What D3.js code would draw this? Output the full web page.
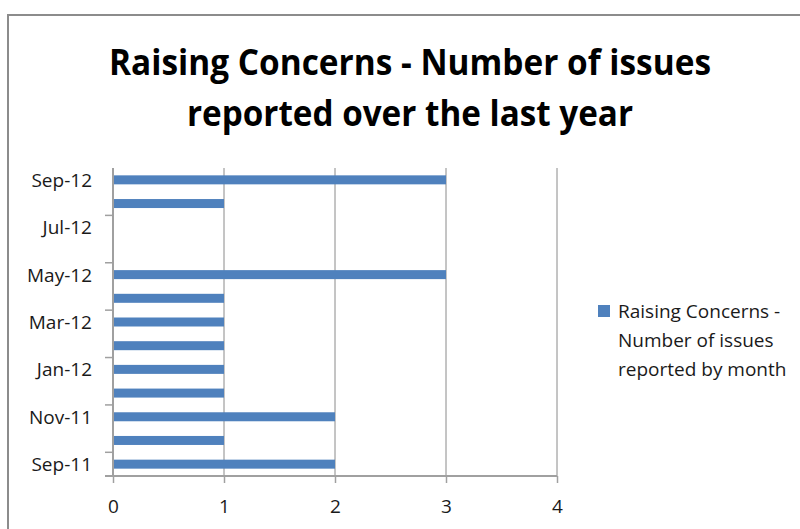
<!DOCTYPE html>
<html>
  <head>
    <meta charset="utf-8">
    <title>Raising Concerns</title>
    <style>
      body { margin: 0; background: #fff; }
      text { font-family: "Open Sans", "Noto Sans", sans-serif; fill: #1a1a1a; }
    </style>
  </head>
  <body>
    <div id="container"></div>
  </body>

  <script src="https://cdn.jsdelivr.net/npm/d3@7"></script>

  <script>
  var months = ["Sep-11", "Oct-11", "Nov-11", "Dec-11", "Jan-12", "Feb-12", "Mar-12",
                "Apr-12", "May-12", "Jun-12", "Jul-12", "Aug-12", "Sep-12"];
  var issues = [2, 1, 2, 1, 1, 1, 1, 1, 3, 0, 0, 1, 3];
  var xTicks = [0, 1, 2, 3, 4];
  var titleLines = ["Raising Concerns - Number of issues", "reported over the last year"];
  var legendLines = ["Raising Concerns -", "Number of issues", "reported by month"];

  function main() {
    var width = 800, height = 529;
    var svg = d3.select("#container").append("svg")
      .attr("width", width)
      .attr("height", height);

    // outer chart frame (runs off the right and bottom edge)
    svg.append("rect")
      .attr("x", 8).attr("y", 15)
      .attr("width", 820).attr("height", 540)
      .attr("fill", "#fff")
      .attr("stroke", "#8c8c8c")
      .attr("stroke-width", 2);

    var left = 113, right = 557, top = 168, bottom = 476;
    var blue = "#4f81bd";

    var x = d3.scaleLinear().domain([0, 4]).range([left, right]);
    var y = d3.scaleBand().domain(months).range([bottom, top]);

    // title
    svg.selectAll(".title").data(titleLines).enter().append("text")
      .attr("class", "title")
      .attr("x", 410)
      .attr("y", function(d, i) { return 75 + i * 51; })
      .attr("text-anchor", "middle")
      .attr("font-size", 35)
      .attr("font-weight", "bold")
      .attr("textLength", function(d, i) { return i === 0 ? 602 : 446; })
      .attr("lengthAdjust", "spacingAndGlyphs")
      .style("fill", "#000")
      .text(function(d) { return d; });

    // vertical gridlines
    svg.selectAll(".grid").data(xTicks.slice(1)).enter().append("line")
      .attr("class", "grid")
      .attr("x1", function(d) { return x(d); })
      .attr("x2", function(d) { return x(d); })
      .attr("y1", top).attr("y2", bottom)
      .attr("stroke", "#8a8a8a")
      .attr("stroke-width", 1);

    // bars
    var barH = 9;
    svg.selectAll(".bar").data(issues).enter().append("rect")
      .attr("class", "bar")
      .attr("x", x(0))
      .attr("y", function(d, i) { return y(months[i]) + y.bandwidth() / 2 - barH / 2; })
      .attr("width", function(d) { return x(d) - x(0); })
      .attr("height", barH)
      .attr("fill", blue);

    // x axis
    var xAxis = svg.append("g")
      .attr("transform", "translate(0," + bottom + ")")
      .call(d3.axisBottom(x).tickValues(xTicks).tickSize(7).tickPadding(0).tickFormat(d3.format("d")));
    xAxis.select(".domain").attr("stroke", "#a0a0a0").attr("stroke-width", 2)
      .attr("d", "M" + (left - 8) + ",0H" + right);
    xAxis.selectAll(".tick line").attr("stroke", "#a0a0a0").attr("stroke-width", 1.5);
    xAxis.selectAll(".tick text")
      .attr("y", 37).attr("dy", null)
      .attr("font-size", 19)
      .style("font-family", "'Open Sans', sans-serif")
      .attr("fill", "#1a1a1a");

    // y axis: line, ticks every other band, labels on every other band
    svg.append("line")
      .attr("x1", left).attr("x2", left)
      .attr("y1", top).attr("y2", bottom)
      .attr("stroke", "#a0a0a0").attr("stroke-width", 2);

    var tickMonths = months.filter(function(d, i) { return i % 2 === 1; });
    svg.selectAll(".ytick").data(tickMonths).enter().append("line")
      .attr("class", "ytick")
      .attr("x1", left - 8).attr("x2", left)
      .attr("y1", function(d) { return y(d) + y.bandwidth(); })
      .attr("y2", function(d) { return y(d) + y.bandwidth(); })
      .attr("stroke", "#a0a0a0").attr("stroke-width", 1.5);

    var labelMonths = months.filter(function(d, i) { return i % 2 === 0; });
    svg.selectAll(".ylabel").data(labelMonths).enter().append("text")
      .attr("class", "ylabel")
      .attr("x", 92)
      .attr("y", function(d) { return y(d) + y.bandwidth() / 2 + 7; })
      .attr("text-anchor", "end")
      .attr("font-size", 19)
      .text(function(d) { return d; });

    // legend
    svg.append("rect")
      .attr("x", 598).attr("y", 305)
      .attr("width", 12).attr("height", 12)
      .attr("fill", blue);
    svg.selectAll(".legend").data(legendLines).enter().append("text")
      .attr("class", "legend")
      .attr("x", 618)
      .attr("y", function(d, i) { return 318 + i * 29; })
      .attr("font-size", 19)
      .text(function(d) { return d; });
  }

  window.onload = main;
  </script>
</html>
